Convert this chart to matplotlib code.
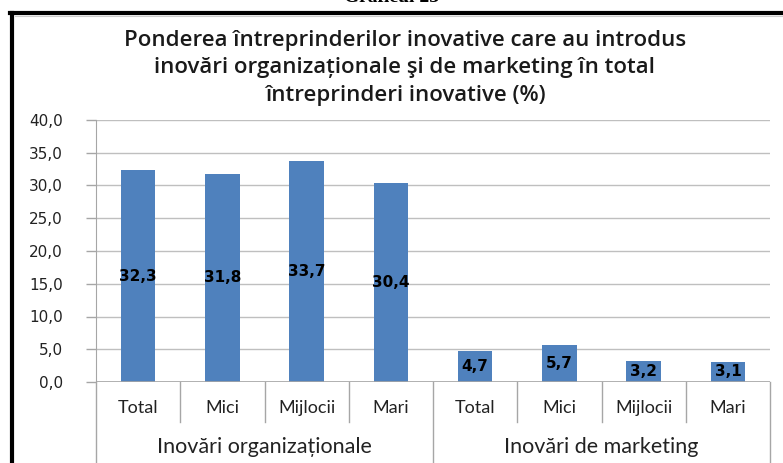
import matplotlib
matplotlib.use("Agg")
import matplotlib.pyplot as plt
from matplotlib.lines import Line2D
import matplotlib.transforms as mtransforms

categories = ["Total", "Mici", "Mijlocii", "Mari", "Total", "Mici", "Mijlocii", "Mari"]
groups = ["Inovări organizaționale", "Inovări de marketing"]
values = [32.3, 31.8, 33.7, 30.4, 4.7, 5.7, 3.2, 3.1]
yticks = [0, 5, 10, 15, 20, 25, 30, 35, 40]
title = "Ponderea întreprinderilor inovative care au introdus\ninovări organizaționale şi de marketing în total\nîntreprinderi inovative (%)"
suptitle = "Graficul 23"

W, H = 783, 463
fig = plt.figure(figsize=(W / 100, H / 100), dpi=100)
fig.patch.set_facecolor("white")

def px(x, y):
    return x / W, 1 - y / H

left, right, top, bottom = 96, 770, 120, 382
ax = fig.add_axes([left / W, 1 - bottom / H, (right - left) / W, (bottom - top) / H])

x = list(range(len(values)))
ax.bar(x, values, width=0.41, color="#4F81BD", zorder=3)
ax.set_xlim(-0.5, len(values) - 0.5)
ax.set_ylim(0, 40)
ax.set_yticks(yticks)
ax.set_yticklabels([f"{v:.1f}".replace(".", ",") for v in yticks],
                   fontsize=11, family="DejaVu Sans", color="#222222")
ax.tick_params(axis="y", length=7, color="#A6A6A6", pad=17, width=1)
ax.set_xticks([])
ax.grid(axis="y", color="#BFBFBF", linewidth=1, zorder=0)
for s in ["top", "right", "bottom"]:
    ax.spines[s].set_visible(False)
ax.spines["left"].set_color("#A6A6A6")
ax.axhline(0, color="#A6A6A6", linewidth=1.2, zorder=4)

for xi, v in zip(x, values):
    ax.text(xi, v / 2, f"{v:.1f}".replace(".", ","), ha="center", va="center",
            fontsize=11, fontweight="bold", family="DejaVu Sans", color="black", zorder=5)

trans = mtransforms.blended_transform_factory(ax.transData, ax.transAxes)
h = bottom - top
def ay(ypix):
    return (bottom - ypix) / h

# category labels
for xi, c in zip(x, categories):
    ax.text(xi, ay(408), c, transform=trans, ha="center", va="center",
            fontsize=13, family="Lato", color="#222222", clip_on=False)
# group labels
n_per = len(categories) // len(groups)
for gi, g in enumerate(groups):
    cx = gi * n_per + (n_per - 1) / 2
    ax.text(cx, ay(447), g, transform=trans, ha="center", va="center",
            fontsize=15.5, family="Lato", color="#222222", clip_on=False)
# separators
for b in range(len(categories) + 1):
    xb = b - 0.5
    yend = 463 if b % n_per == 0 else 422
    ax.plot([xb, xb], [ay(bottom), ay(yend)], transform=trans, color="#A6A6A6",
            linewidth=1, clip_on=False, zorder=2)

# title
fig.text(*px(405, 68), title, ha="center", va="center", fontsize=16,
         fontweight="semibold", family="Open Sans", color="#1a1a1a", linespacing=1.38)
fig.text(*px(392, -3), suptitle, ha="center", va="center", fontsize=14,
         fontweight="bold", family="Liberation Serif", color="black")

# frame
fig.add_artist(Line2D([px(12, 0)[0], px(12, 0)[0]], [px(0, 13)[1], px(0, 470)[1]],
                      color="black", linewidth=3, transform=fig.transFigure))
fig.add_artist(Line2D([px(10, 0)[0], 1.0], [px(0, 13)[1], px(0, 13)[1]],
                      color="black", linewidth=3, transform=fig.transFigure))
fig.add_artist(Line2D([px(15, 0)[0], 1.0], [px(0, 16)[1], px(0, 16)[1]],
                      color="#CCCCCC", linewidth=0.8, transform=fig.transFigure))

fig.savefig("out.png", dpi=100)
